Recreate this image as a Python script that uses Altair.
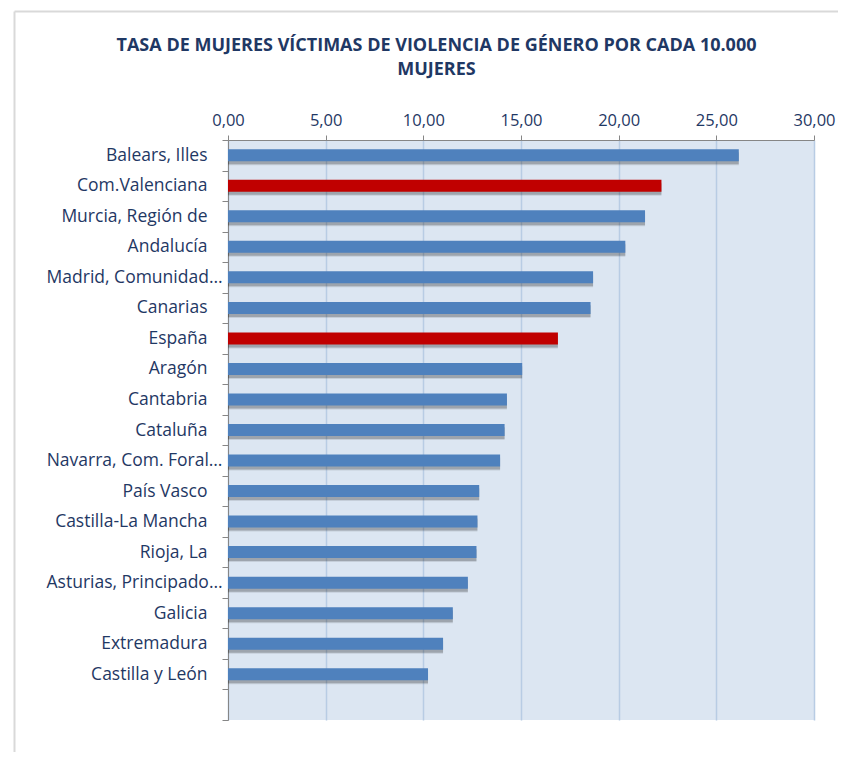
import altair as alt
import pandas as pd

regions = ["Balears, Illes", "Com.Valenciana", "Murcia, Región de", "Andalucía",
           "Madrid, Comunidad…", "Canarias", "España", "Aragón", "Cantabria",
           "Cataluña", "Navarra, Com. Foral…", "País Vasco", "Castilla-La Mancha",
           "Rioja, La", "Asturias, Principado…", "Galicia", "Extremadura",
           "Castilla y León"]
values = [26.15, 22.19, 21.35, 20.34, 18.69, 18.56, 16.89, 15.06, 14.28, 14.16,
          13.93, 12.86, 12.77, 12.72, 12.28, 11.51, 11.01, 10.24]
highlight = ["Com.Valenciana", "España"]
x_ticks = [0, 5, 10, 15, 20, 25, 30]

df = pd.DataFrame({"region": regions, "value": values})
df["grupo"] = ["rojo" if r in highlight else "azul" for r in regions]
domain = regions + [" "]

FONT = "Open Sans"
NAVY = "#1f3864"
GREY = "#868686"

y_enc = alt.Y("region:N", sort=None, title=None,
              scale=alt.Scale(domain=domain, paddingInner=0, paddingOuter=0),
              axis=alt.Axis(labelFont=FONT, labelFontSize=17.5, labelColor=NAVY,
                            labelLimit=400,
                            labelPadding={"condition": {"test": "indexof(datum.label, '…') >= 0", "value": 0}, "value": 15},
                            domainColor=GREY, tickColor=GREY, tickSize=6,
                            tickBand="extent", minExtent=200, maxExtent=200))
x_enc = alt.X("value:Q", title=None,
              scale=alt.Scale(domain=[0, 30], nice=False, zero=True),
              axis=alt.Axis(orient="top", values=x_ticks,
                            labelExpr="replace(format(datum.value, '.2f'), '.', ',')",
                            labelFont=FONT, labelFontSize=16.5, labelColor=NAVY,
                            labelFlush=False,
                            labelPadding=7, domainColor=GREY, tickColor=GREY,
                            tickSize=5, grid=True, gridColor="#b8cce4",
                            gridWidth=1.5, minExtent=30, maxExtent=30))

base = alt.Chart(df).encode(x=x_enc, y=y_enc)

shadow1 = base.mark_bar(size=12, color="#000000", opacity=0.10, yOffset=4, x2Offset=6)
shadow2 = base.mark_bar(size=12, color="#000000", opacity=0.20, yOffset=3, x2Offset=4)
bars = base.mark_bar(size=12).encode(
    color=alt.Color("grupo:N", legend=None,
                    scale=alt.Scale(domain=["azul", "rojo"], range=["#4f81bd", "#c00000"]))
)

frame_src = alt.Data(values=[{"k": 1}])
frame_left = alt.Chart(frame_src).mark_rule(color="#d9d9d9", strokeWidth=2).encode(
    x=alt.value(-213.5), y=alt.value(-128.5), y2=alt.value(612))
frame_top = alt.Chart(frame_src).mark_rule(color="#d9d9d9", strokeWidth=2).encode(
    x=alt.value(-213.5), x2=alt.value(610), y=alt.value(-128.5))

chart = alt.layer(frame_left, frame_top, shadow1, shadow2, bars).properties(
    width=586, height=580,
    padding={"left": 5, "top": 2, "right": 0, "bottom": 0},
    title=alt.TitleParams(
        text=["TASA DE MUJERES VÍCTIMAS DE VIOLENCIA DE GÉNERO POR CADA 10.000", "MUJERES"],
        font=FONT, fontSize=18, fontWeight="bold", color=NAVY, frame="group",
        anchor="middle", dx=-84.5, lineHeight=24, offset=-68),
).configure_view(fill="#dce6f2", strokeWidth=0)

chart.save("out.html", embed_options={"renderer": "svg", "actions": False})
